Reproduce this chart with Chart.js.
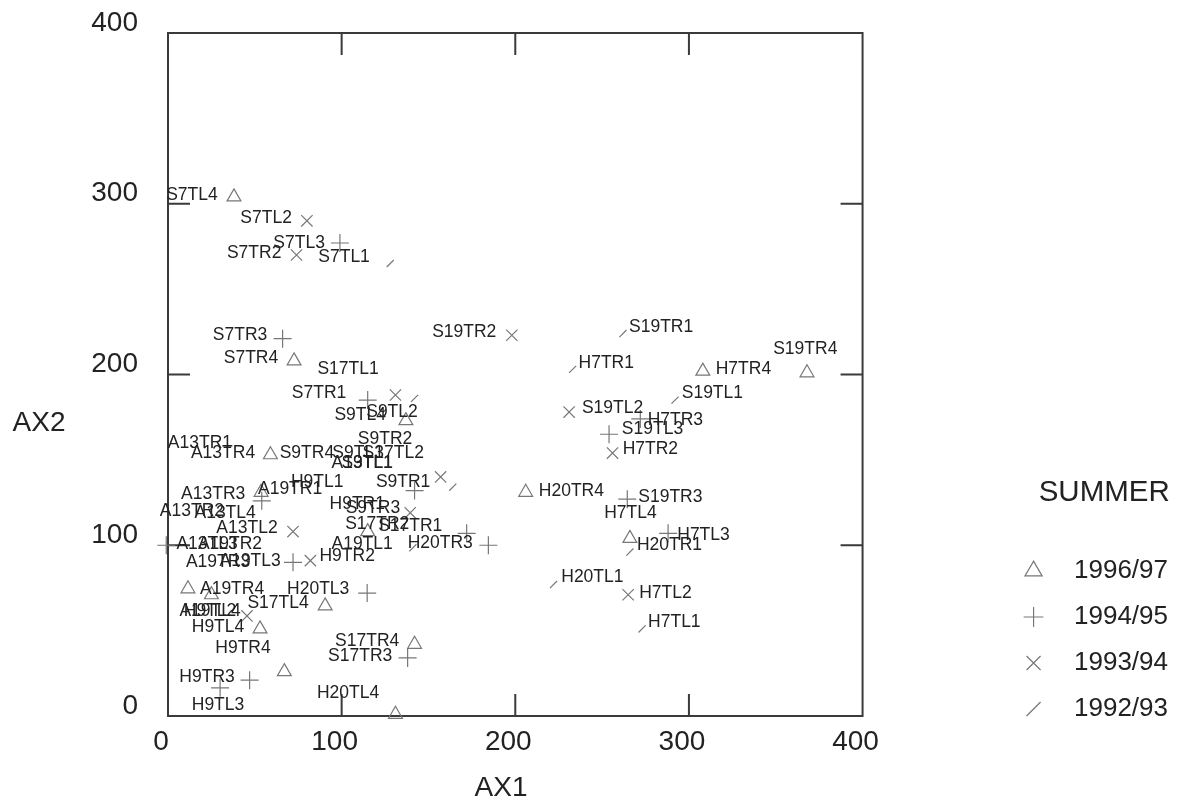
<!DOCTYPE html>
<html>
<head>
<meta charset="utf-8">
<title>Summer ordination</title>
<script src="https://cdn.jsdelivr.net/npm/chart.js@4/dist/chart.umd.min.js"></script>
<style>
  html, body { margin: 0; padding: 0; background: #fff; }
  #wrap { width: 1193px; height: 807px; }
  #chart { filter: blur(0.5px); }
</style>
</head>
<body>
<div id="wrap"><canvas id="chart" width="1193" height="807"></canvas></div>
<script>
// axis ticks
const axisTicks = [0, 100, 200, 300, 400];
const seriesNames = ['1996/97', '1994/95', '1993/94', '1992/93'];

// marks, [AX1, AX2]
const marks9697 = [[38,304],[72.6,208],[59,153],[206,131],[308,202],[368,201],[53.6,131],[266,104],[137,173],[90.5,64.5],
  [53,51],[67,26],[142,42],[131,1],[11.5,74.5],[25,71],[115,108]];
const marks9495 = [[99,277],[66,221],[184.5,100],[254,165],[272,174],[264.5,127],[288,107],[114.7,72],[138,34],[47,21],
  [30,16.5],[72,90],[54,126],[142,132],[115,185],[-1,100],[172,107]];
const marks9394 = [[80,290],[74,270],[198,223],[231,178],[256,154],[265,71],[131,188],[157,140],[72,108],[82,91],
  [45.5,58.6],[139.5,119]];
const marks9293 = [[128,265],[262,224],[233,203],[292,185],[266,96],[222,77],[273,51],[164,134],[142,186],[141,98.5]];

// point names, with where each name sits on the AX1/AX2 plane
const labelNames = ['S7TL4','S7TL2','S7TL3','S7TR2','S7TL1','S7TR3','S7TR4','S17TL1','S7TR1','S19TR2','S19TR1','H7TR1',
  'H7TR4','S19TR4','S19TL1','S19TL2','H7TR3','S19TL3','H7TR2','H20TR4','S19TR3','H7TL4','H7TL3','H20TR1','H20TL1','H7TL2',
  'H7TL1','S9TL4','S9TL2','S9TR2','A13TR1','A13TR4','S9TR4','S9TL3','S17TL2','A13TL1','S9TL1','H9TL1','S9TR1','A13TR3',
  'A19TR1','H9TR1','S9TR3','A13TR2','A13TL4','A13TL2','S17TR2','S17TR1','A13TL3','A19TR2','A19TL1','H20TR3','A19TR3',
  'A19TL3','H9TR2','A19TR4','H20TL3','S17TL4','A19TL4','H9TL2','H9TL4','H9TR4','S17TR4','S17TR3','H9TR3','H20TL4','H9TL3'];
const labelAx1 = [13.8,56.5,75.5,49.6,101.4,41.5,47.8,103.7,87,170.6,284,252.4,331.4,367,313.5,256,292.2,279,277.8,232.3,
  289.3,266.3,308.4,288.8,244.4,286.5,291.6,110.7,129,125,18.4,31.7,80,109.5,129.7,111.8,114.7,85.9,135.4,26,70.3,109,118,
  13.8,32.9,45.5,120.5,139.5,22.5,35.7,111.8,156.8,28.8,47.3,103.2,36.9,86.5,63.4,24.2,24.2,28.8,43.2,114.7,110.7,22.5,103.7,28.8];
const labelAx2 = [305,291.5,277,271,269,223,209.4,203,189,225,227.6,206.5,203,214.7,188.9,180,173,167.7,156,131.4,128.4,
  118.5,106,100.3,81.5,72,55,176,177.7,162,160,153.7,153.7,153.7,153.7,147.8,147.8,137.2,137.2,130,132.6,124.3,122,120.2,
  118.5,110,112.6,110.9,100.9,100.9,100.9,101.5,90.3,90.9,93.8,74.5,74.5,66.3,61.6,61.6,52.2,39.9,44,35.2,22.9,13.5,6.5];

const markColor = '#777';
const textColor = '#222';
const fontName = '"Liberation Sans", Arial, sans-serif';

function toPoints(list) {
  return list.map(p => ({ x: p[0], y: p[1] }));
}

// frame, inward ticks on all four sides, point names and the two axis titles
const annotate = {
  id: 'annotate',
  afterLayout(chart) {
    // legend sits a little below the bottom of the plot
    chart.legend.top += 26;
    chart.legend.bottom += 26;
  },
  beforeDatasetsDraw(chart) {
    const { ctx, chartArea: a, scales: { x, y } } = chart;
    ctx.save();
    ctx.strokeStyle = '#3a3a3a';
    ctx.lineWidth = 2;
    ctx.strokeRect(a.left, a.top, a.right - a.left, a.bottom - a.top);
    axisTicks.slice(1, -1).forEach(v => {
      const px = x.getPixelForValue(v), py = y.getPixelForValue(v);
      ctx.beginPath();
      ctx.moveTo(px, a.bottom); ctx.lineTo(px, a.bottom - 22);
      ctx.moveTo(px, a.top); ctx.lineTo(px, a.top + 22);
      ctx.moveTo(a.left, py); ctx.lineTo(a.left + 22, py);
      ctx.moveTo(a.right, py); ctx.lineTo(a.right - 22, py);
      ctx.stroke();
    });
    ctx.restore();
  },
  afterDatasetsDraw(chart) {
    const { ctx, scales: { x, y } } = chart;
    ctx.save();
    ctx.fillStyle = textColor;
    ctx.textAlign = 'center';
    ctx.textBaseline = 'middle';
    ctx.font = '17.5px ' + fontName;
    labelNames.forEach((name, i) => {
      ctx.fillText(name, x.getPixelForValue(labelAx1[i]), y.getPixelForValue(labelAx2[i]));
    });
    ctx.font = '28px ' + fontName;
    ctx.fillText('AX1', 501, 788);
    ctx.fillText('AX2', 39, 423);
    ctx.restore();
  }
};

function dataset(name, list, style, radius, rotation) {
  return {
    label: name,
    data: toPoints(list),
    pointStyle: style,
    pointRadius: radius,
    pointRotation: rotation,
    rotation: rotation,
    pointBackgroundColor: 'transparent',
    pointBorderColor: markColor,
    pointBorderWidth: 1.2,
    borderColor: markColor,
    backgroundColor: 'transparent',
    borderWidth: 1.2,
    clip: false
  };
}

new Chart(document.getElementById('chart').getContext('2d'), {
  type: 'scatter',
  data: {
    datasets: [
      dataset(seriesNames[0], marks9697, 'triangle', 8, 0),
      dataset(seriesNames[1], marks9495, 'cross', 9, 0),
      dataset(seriesNames[2], marks9394, 'crossRot', 8, 0),
      dataset(seriesNames[3], marks9293, 'line', 5, -45)
    ]
  },
  plugins: [annotate],
  options: {
    responsive: false,
    animation: false,
    layout: { padding: { top: 33, right: 15, bottom: 0, left: 0 } },
    plugins: {
      tooltip: { enabled: false },
      legend: {
        position: 'right',
        align: 'end',
        fullSize: false,
        title: {
          display: true,
          // trailing space lines the title's right end up with the year labels
          text: 'SUMMER ',
          position: 'end',
          color: textColor,
          font: { family: fontName, size: 29.5 },
          padding: { top: 0, bottom: 24 }
        },
        labels: {
          usePointStyle: true,
          boxWidth: 26,
          boxHeight: 14,
          padding: 20,
          color: textColor,
          font: { family: fontName, size: 26 },
          generateLabels(chart) {
            // two spaces hold the names away from the symbols
            return Chart.defaults.plugins.legend.labels.generateLabels(chart).map(item => {
              item.text = '  ' + item.text;
              item.strokeStyle = markColor;
              item.lineWidth = 1.2;
              return item;
            });
          }
        }
      }
    },
    scales: {
      x: {
        type: 'linear',
        min: 0,
        max: 400,
        afterFit: s => { s.height = 91; s.paddingLeft = 0; s.paddingRight = 0; },
        afterBuildTicks: s => { s.ticks = axisTicks.map(v => ({ value: v })); },
        grid: { display: false },
        border: { display: false },
        ticks: {
          padding: 1,
          labelOffset: -7,
          maxRotation: 0,
          color: textColor,
          font: { family: fontName, size: 28 }
        }
      },
      y: {
        type: 'linear',
        min: 0,
        max: 400,
        afterFit: s => { s.width = 168; s.paddingTop = 0; s.paddingBottom = 0; },
        afterBuildTicks: s => { s.ticks = axisTicks.map(v => ({ value: v })); },
        grid: { display: false },
        border: { display: false },
        ticks: {
          padding: 22,
          labelOffset: -10,
          color: textColor,
          font: { family: fontName, size: 28 }
        }
      },
      // empty right axis, only keeps the legend away from the plot
      yr: {
        type: 'linear',
        position: 'right',
        min: 0,
        max: 400,
        afterFit: s => { s.width = 138; s.paddingTop = 0; s.paddingBottom = 0; },
        grid: { display: false },
        border: { display: false },
        ticks: { display: false }
      }
    }
  }
});
</script>
</body>
</html>
